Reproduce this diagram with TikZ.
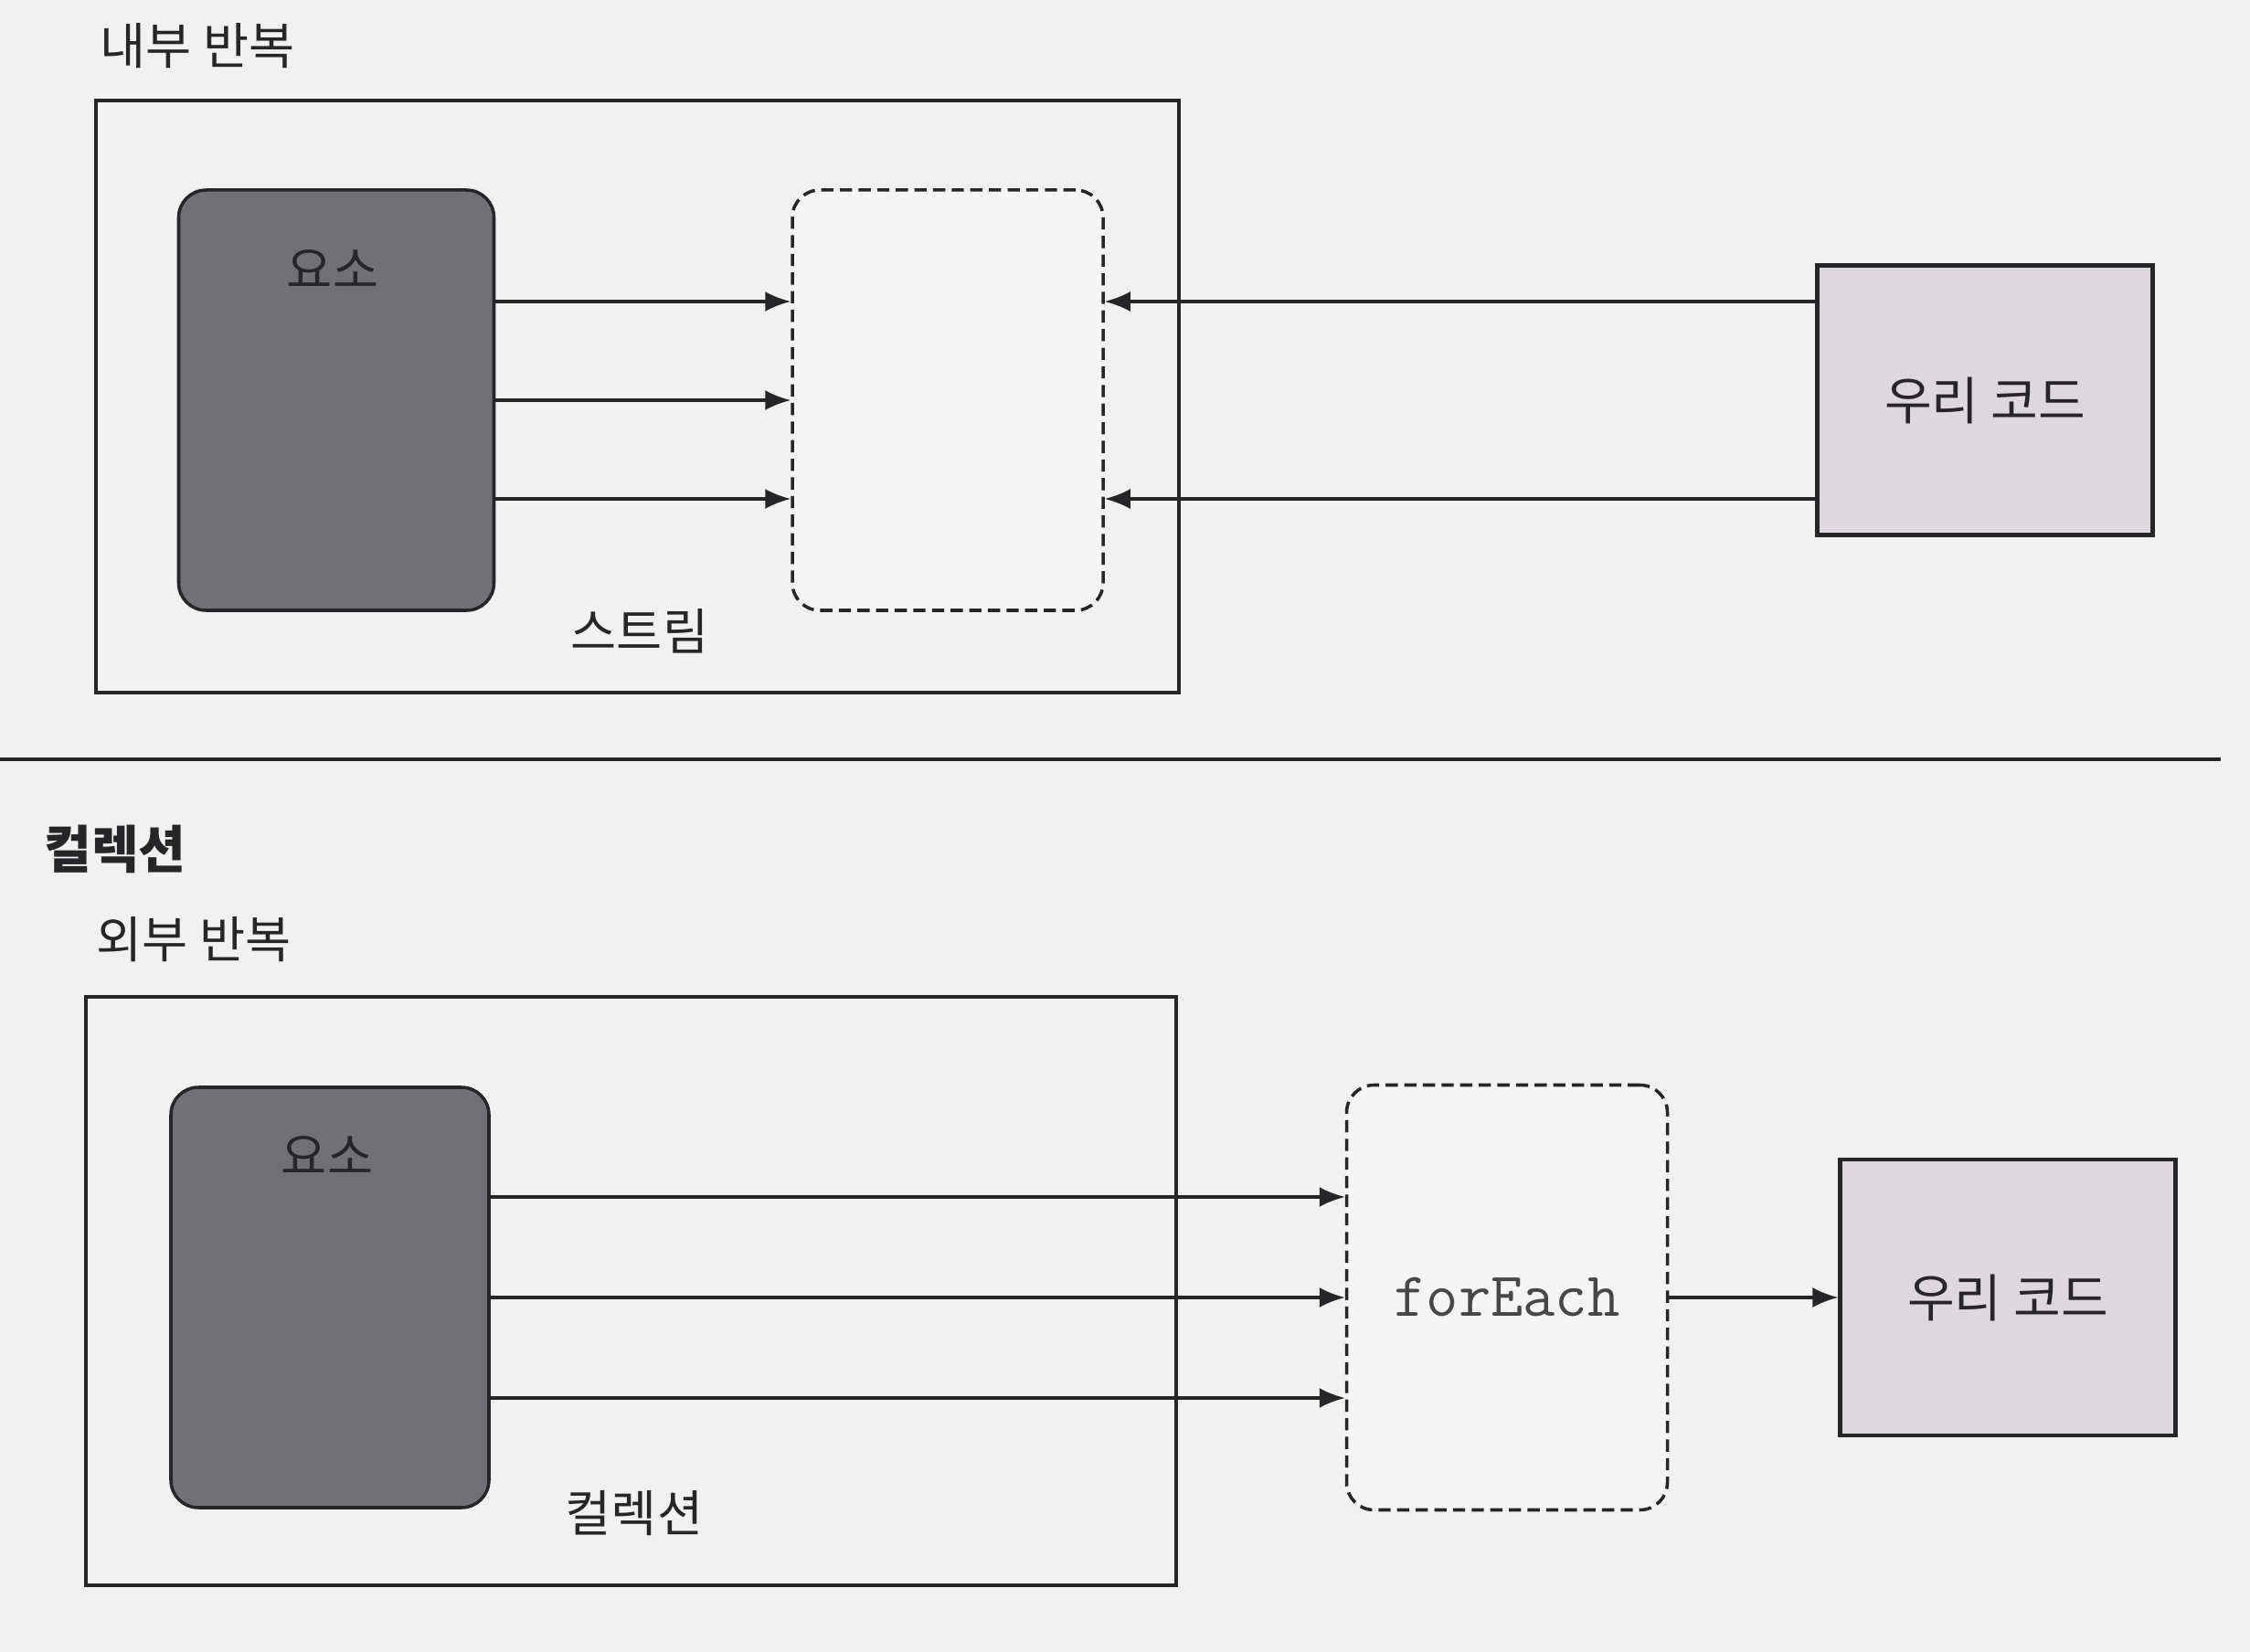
\documentclass[tikz,border=0pt]{standalone}
\usepackage{fontspec}
\setmainfont{Noto Sans CJK KR}
\usetikzlibrary{arrows.meta,positioning}
\definecolor{itpaper}{RGB}{241,241,241}
\definecolor{itink}{RGB}{38,38,40}
\definecolor{itelem}{RGB}{112,112,117}
\definecolor{itpipe}{RGB}{245,245,245}
\definecolor{itcode}{RGB}{221,216,219}

\begin{document}
\begin{tikzpicture}[
    flow/.style={-{Latex[length=2.8mm,width=2.2mm]}, line width=0.9pt, draw=itink},
    frame/.style={draw=itink, line width=1pt},
    elembox/.style={draw=itink, line width=1pt, fill=itelem, rounded corners=0.3cm,
      minimum width=3.45cm, minimum height=4.6cm},
    pipebox/.style={draw=itink, line width=1pt, dash pattern=on 3.8pt off 2pt,
      fill=itpipe, rounded corners=0.3cm, minimum width=3.4cm, minimum height=4.6cm},
    codebox/.style={draw=itink, line width=1.2pt, fill=itcode, text=itink,
      minimum width=3.67cm, minimum height=2.95cm, font=\fontsize{16pt}{19pt}\selectfont},
    caption/.style={text=itink, font=\fontsize{15.5pt}{18pt}\selectfont}
  ]
  \fill[itpaper] (0,0) rectangle (24.62,-18.08);
  \useasboundingbox (0,0) rectangle (24.62,-18.08);

  % internal iteration
  \node[caption] (titleA) at (2.16,-0.50) {내부 반복};
  \draw[frame] (1.05,-1.10) rectangle (12.90,-7.58);
  \node[elembox] (elemA) at (3.68,-4.38) {};
  \node[caption] (elemlabelA) at (3.64,-2.95) {요소};
  \node[pipebox] (streamA) at (10.37,-4.38) {};
  \node[caption] (streamlabelA) at (7.00,-6.91) {스트림};
  \node[codebox] (codeA) at (21.72,-4.38) {우리 코드};
  \foreach \dy in {1.08,0,-1.08}
    \draw[flow] ([yshift=\dy cm]elemA.east) -- ([yshift=\dy cm]streamA.west);
  \foreach \dy in {1.08,-1.08}
    \draw[flow] ([yshift=\dy cm]codeA.west) -- ([yshift=\dy cm]streamA.east);

  \draw[frame] (0,-8.31) -- (24.30,-8.31);

  % external iteration
  \node[caption, font=\fontsize{16pt}{19pt}\selectfont\bfseries] (titleB) at (1.26,-9.29) {컬렉션};
  \node[caption] (subtitleB) at (2.12,-10.28) {외부 반복};
  \draw[frame] (0.94,-10.91) rectangle (12.87,-17.35);
  \node[elembox, minimum width=3.48cm] (elemB) at (3.61,-14.20) {};
  \node[caption] (elemlabelB) at (3.58,-12.65) {요소};
  \node[caption] (colllabelB) at (6.94,-16.56) {컬렉션};
  \node[pipebox, minimum width=3.51cm, minimum height=4.65cm, text=itink!85,
    font=\ttfamily\fontsize{19.5pt}{22pt}\selectfont] (forEachB) at (16.49,-14.20) {forEach};
  \node[codebox, minimum height=3.02cm] (codeB) at (21.97,-14.20) {우리 코드};
  \foreach \dy in {1.10,0,-1.10}
    \draw[flow] ([yshift=\dy cm]elemB.east) -- ([yshift=\dy cm]forEachB.west);
  \draw[flow] (forEachB) -- (codeB);
\end{tikzpicture}
\end{document}
